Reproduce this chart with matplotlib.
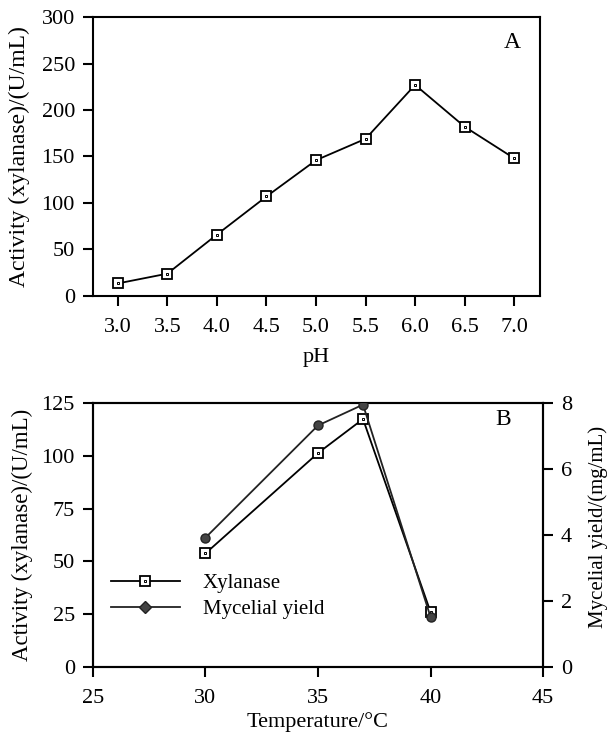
import matplotlib.pyplot as plt
from matplotlib.legend_handler import HandlerTuple

plt.rcParams['font.family'] = ['Liberation Serif', 'DejaVu Serif']
plt.rcParams['font.size'] = 15

# panel A: xylanase activity vs pH
ph = [3.0, 3.5, 4.0, 4.5, 5.0, 5.5, 6.0, 6.5, 7.0]
act_ph = [13.5, 24, 66, 107, 146, 169, 227, 182, 148]
ph_ticks = [3.0, 3.5, 4.0, 4.5, 5.0, 5.5, 6.0, 6.5, 7.0]
act_ticks_a = [0, 50, 100, 150, 200, 250, 300]

# panel B: temperature
temp = [30, 35, 37, 40]
act_temp = [53.8, 101.3, 117.4, 26.1]
myc_yield = [3.92, 7.32, 7.95, 1.52]
temp_ticks = [25, 30, 35, 40, 45]
act_ticks_b = [0, 25, 50, 75, 100, 125]
myc_ticks = [0, 2, 4, 6, 8]

fig = plt.figure(figsize=(6.07, 7.33), dpi=100)
axA = fig.add_axes([0.1532, 0.5962, 0.7364, 0.3806])
axB = fig.add_axes([0.1532, 0.0900, 0.7414, 0.3602])


def style(ax):
    for s in ax.spines.values():
        s.set_linewidth(1.5)
    ax.tick_params(direction='out', length=7, width=1.5, pad=6, labelsize=16)


def xyl_markers(ax, x, y):
    ax.plot(x, y, color='black', lw=1.3, marker='s', ms=7.5, mfc='white',
            mec='black', mew=1.3, zorder=3)
    ax.plot(x, y, ls='none', marker='s', ms=2, mfc='white', mec='black',
            mew=0.7, zorder=4)


# ---- A ----
style(axA)
xyl_markers(axA, ph, act_ph)
axA.set_xlim(2.75, 7.26)
axA.set_ylim(0, 300)
axA.set_xticks(ph_ticks)
axA.set_xticklabels([f'{v:.1f}' for v in ph_ticks])
axA.set_yticks(act_ticks_a)
axA.tick_params(axis='x', pad=9)
axA.set_xlabel('pH', fontsize=16)
axA.xaxis.set_label_coords(0.5, -0.186)
axA.set_ylabel('Activity (xylanase)/(U/mL)', fontsize=17)
axA.yaxis.set_label_coords(-0.141, 0.5)
axA.text(0.937, 0.91, 'A', transform=axA.transAxes, ha='center', va='center',
         fontsize=17)

# ---- B ----
style(axB)
axB2 = axB.twinx()
style(axB2)
xyl_markers(axB, temp, act_temp)
axB2.plot(temp, myc_yield, color='#222222', lw=1.3, marker='o', ms=6.5,
          mfc='#444444', mec='#222222', zorder=3)
axB.set_xlim(25, 45)
axB.set_ylim(0, 125)
axB2.set_ylim(0, 8)
axB.set_xticks(temp_ticks)
axB.set_yticks(act_ticks_b)
axB2.set_yticks(myc_ticks)
axB.tick_params(axis='x', pad=9)
axB.set_xlabel('Temperature/\u00b0C', fontsize=16)
axB.xaxis.set_label_coords(0.5, -0.17)
axB.set_ylabel('Activity (xylanase)/(U/mL)', fontsize=16.5)
axB.yaxis.set_label_coords(-0.133, 0.5)
axB2.set_ylabel('Mycelial yield/(mg/mL)', fontsize=15)
axB2.yaxis.set_label_coords(1.10, 0.53)
axB.text(0.911, 0.936, 'B', transform=axB.transAxes, ha='center', va='center',
         fontsize=17)

# legend
h1, = axB.plot([], [], color='black', lw=1.3, marker='s', ms=7.5,
               mfc='white', mec='black', mew=1.3)
h1b, = axB.plot([], [], ls='none', marker='s', ms=2, mfc='white', mec='black',
                mew=0.7)
h2, = axB.plot([], [], color='#222222', lw=1.3, marker='D', ms=6,
               mfc='#444444', mec='#222222')
axB.legend([(h1, h1b), h2], ['Xylanase', 'Mycelial yield'],
           handler_map={tuple: HandlerTuple(ndivide=1, pad=0)},
           loc='center left', bbox_to_anchor=(0.04, 0.267), frameon=False,
           fontsize=15, handlelength=3.3, handletextpad=1.1,
           labelspacing=0.3, borderpad=0, borderaxespad=0)

fig.savefig('out.png', dpi=100)
